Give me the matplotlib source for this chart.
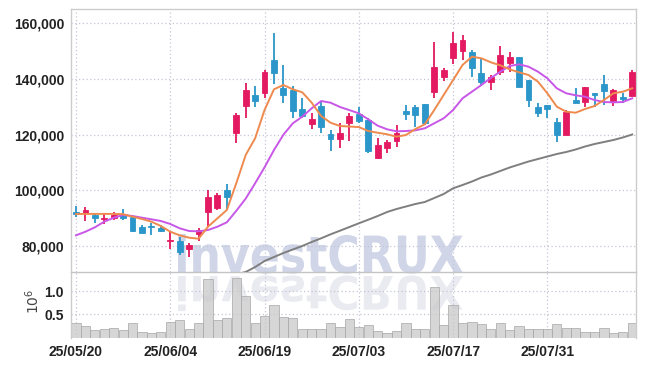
import matplotlib
matplotlib.use("Agg")
import matplotlib.pyplot as plt
import numpy as np
from matplotlib.textpath import TextPath
from matplotlib.patches import PathPatch
from matplotlib.font_manager import FontProperties
from matplotlib.transforms import Affine2D, IdentityTransform

# daily candles, 25/05/20 .. 25/08/13 (60 trading days)
opens = [92200, 91950, 91200, 89550, 90150, 91100, 90500, 86700, 87100, 86450,
         81650, 81850, 78800, 84400, 92300, 93500, 100100, 120700, 130400, 134200,
         134800, 146800, 136600, 136000, 129200, 123900, 130300, 120100, 118300, 124300,
         127300, 125200, 111500, 115100, 117800, 128500, 130000, 130900, 135400, 140600,
         147400, 150200, 149600, 142000, 139000, 142600, 145600, 148000, 139600, 129800,
         130600, 124600, 119800, 132400, 131800, 135000, 138200, 132100, 133600, 134000]
closes = [91600, 92900, 90100, 90150, 91000, 90150, 85350, 84750, 86700, 85450,
          82250, 77700, 80300, 85700, 97450, 98300, 97700, 127000, 136000, 132100,
          142400, 142300, 134200, 128600, 126700, 125600, 122600, 118500, 120500, 126700,
          125000, 114100, 116300, 117400, 120700, 127500, 127000, 124300, 144400, 143200,
          152800, 154000, 144000, 138800, 140800, 148600, 148000, 137200, 132400, 127900,
          129200, 119800, 128200, 131500, 137000, 134200, 135800, 136000, 132800, 142600]
highs = [94300, 94100, 91300, 91900, 92100, 93150, 90700, 87400, 88300, 87500,
         85100, 83100, 80900, 86500, 100100, 99100, 102200, 127900, 138600, 137600,
         143200, 156500, 145000, 137400, 133000, 127900, 132100, 121600, 124300, 127600,
         130000, 125900, 118700, 118100, 123400, 130600, 130600, 131100, 153400, 143800,
         157000, 155800, 150400, 147400, 141400, 151800, 149800, 148000, 139600, 131500,
         130600, 125900, 128800, 136600, 137200, 135000, 141400, 136300, 134800, 143200]
lows = [90500, 89000, 88100, 87900, 89300, 89300, 85100, 84500, 83800, 85100,
        78800, 76600, 75900, 81900, 86900, 92900, 93000, 117100, 125900, 129800,
        133000, 138100, 131200, 125900, 125900, 121900, 120500, 114100, 115100, 117700,
        124100, 113500, 111200, 113300, 115600, 125200, 122800, 123400, 133300, 139300,
        145300, 146800, 140700, 137800, 136000, 141400, 142600, 137000, 130000, 126200,
        125900, 117400, 119800, 131200, 130000, 130000, 130600, 130300, 131200, 134000]

# volume in millions
volumes = [0.31, 0.25, 0.16, 0.18, 0.20, 0.16, 0.31, 0.11, 0.09, 0.11,
           0.33, 0.37, 0.18, 0.31, 1.25, 0.37, 0.41, 1.27, 0.89, 0.31,
           0.46, 0.69, 0.44, 0.41, 0.18, 0.18, 0.18, 0.31, 0.22, 0.39,
           0.22, 0.26, 0.14, 0.09, 0.14, 0.31, 0.18, 0.18, 1.08, 0.26,
           0.69, 0.31, 0.33, 0.29, 0.18, 0.31, 0.16, 0.24, 0.18, 0.18,
           0.18, 0.29, 0.20, 0.20, 0.11, 0.11, 0.20, 0.09, 0.11, 0.31]

# moving averages
ma_short = [91450, 91500, 91500, 91500, 91500, 91400, 90500, 89670, 88700, 87150,
            85100, 83800, 82950, 82580, 86900, 89900, 92900, 102500, 112670, 118670,
            128840, 136280, 137830, 136280, 135200, 131470, 126680, 124270, 123090, 122900,
            122710, 121290, 120680, 120110, 119250, 119850, 122010, 123700, 128840, 134230,
            139620, 145010, 148000, 147420, 145980, 144900, 143460, 142390, 141420, 139010,
            134840, 130030, 128230, 127870, 129200, 130280, 132430, 134840, 135420, 136640]
ma_mid = [83800, 85100, 86680, 88700, 90130, 91100, 90740, 90130, 89560, 88950,
          87870, 86320, 85350, 85240, 85710, 86900, 88480, 92600, 97000, 102500,
          108250, 114460, 119960, 124060, 126440, 129450, 132070, 131470, 129930, 128800,
          127650, 125500, 123200, 121900, 121190, 121290, 121540, 122260, 124060, 125860,
          128840, 133050, 135420, 137830, 140340, 142610, 144650, 145270, 144400, 142610,
          140220, 136640, 134840, 134120, 133620, 132430, 131710, 131590, 131710, 133050]
ma_long = [np.nan] * 17 + [
    69800, 70620, 72410, 74570, 76010, 77450, 78710, 79970, 81400, 82730,
    84160, 85460, 86790, 88120, 89410, 90740, 92180, 93260, 94160, 95060,
    95780, 97210, 98650, 100700, 101890, 103140, 104580, 105660, 106920, 108180,
    109260, 110330, 111230, 112130, 113030, 113750, 114650, 115730, 116620, 117340,
    118060, 118960, 120040]

tick_pos = [0, 10, 20, 30, 40, 50]
tick_labels = ['25/05/20', '25/06/04', '25/06/19', '25/07/03', '25/07/17', '25/07/31']
price_ticks = [80000, 100000, 120000, 140000, 160000]
vol_ticks = [0.5, 1.0]

up_color = '#e31a61'
down_color = '#2b96c9'
grid_color = '#c3c6d6'

W, H = 645, 366
fig = plt.figure(figsize=(W / 100, H / 100), dpi=100)
fig.patch.set_facecolor('white')

ax = fig.add_axes([71 / W, (H - 272) / H, (636 - 71) / W, (272 - 9) / H])
axv = fig.add_axes([71 / W, (H - 337.6) / H, (636 - 71) / W, (337.6 - 272) / H], sharex=ax)
for a in (ax, axv):
    a.patch.set_alpha(0)

# watermark and its reflection, in pixel coordinates
tp = TextPath((0, 0), 'investCRUX', size=100,
              prop=FontProperties(family='DejaVu Sans', weight='bold'))
bb = tp.get_extents()
sx = (463 - 178) / bb.width
sy = 39 / bb.y1
main_tr = Affine2D().translate(-bb.x0, 0).scale(sx, sy).translate(178, H - 273)
refl_tr = Affine2D().translate(-bb.x0, 0).scale(sx, -sy * 0.9).translate(178, H - 276)
fig.patches.append(PathPatch(main_tr.transform_path(tp), transform=IdentityTransform(),
                             facecolor='#d0d5e8', edgecolor='none', zorder=-5, figure=fig))
fig.patches.append(PathPatch(refl_tr.transform_path(tp), transform=IdentityTransform(),
                             facecolor='#eaebf1', edgecolor='none', zorder=-5, figure=fig))

x = np.arange(len(opens))
o = np.array(opens)
c = np.array(closes)
colors = [up_color if cc >= oo else down_color for oo, cc in zip(o, c)]
body_low = np.minimum(o, c)
body_h = np.maximum(np.abs(c - o), 400)

ax.vlines(x, lows, highs, colors=colors, linewidth=1.3, zorder=2)
ax.bar(x, body_h, bottom=body_low, width=0.62, color=colors, edgecolor=colors,
       linewidth=0.6, zorder=3)

ax.plot(x, ma_long, color='#7f7f7f', linewidth=1.4, zorder=4)
ax.plot(x, ma_mid, color='#c857e8', linewidth=1.4, zorder=4)
ax.plot(x, ma_short, color='#ee8a4e', linewidth=1.4, zorder=4)

axv.bar(x, volumes, width=0.98, color='#c9c9c9', alpha=0.75,
        edgecolor='#a9a9a9', linewidth=0.7, zorder=2)

ax.set_xlim(-0.53, 59.4)
ax.set_ylim(70620, 165140)
axv.set_ylim(0, 1.408)

ax.set_yticks(price_ticks)
ax.set_yticklabels([f'{v:,}' for v in price_ticks])
axv.set_yticks(vol_ticks)
axv.set_yticklabels(['0.5', '1.0'])
axv.set_xticks(tick_pos)
axv.set_xticklabels(tick_labels)
ax.tick_params(axis='x', labelbottom=False)

for a in (ax, axv):
    a.tick_params(length=0, pad=5, labelsize=10, labelcolor='#222222')
    for lab in a.get_xticklabels() + a.get_yticklabels():
        lab.set_family('Liberation Sans')
        lab.set_fontweight('bold')
    a.grid(True, color=grid_color, linestyle=(0, (1, 2)), linewidth=0.9, zorder=0)
    a.set_axisbelow(True)
    for s in a.spines.values():
        s.set_color('#cccccc')
        s.set_linewidth(1.0)

ax.spines['bottom'].set_color('#c4c4c4')
axv.spines['top'].set_visible(False)
axv.spines['bottom'].set_visible(False)

fig.text(33 / W, (H - 301) / H, r'$10^6$', rotation=90, ha='center', va='center',
         fontsize=10, color='#444444')

fig.savefig('out.png', dpi=100)
